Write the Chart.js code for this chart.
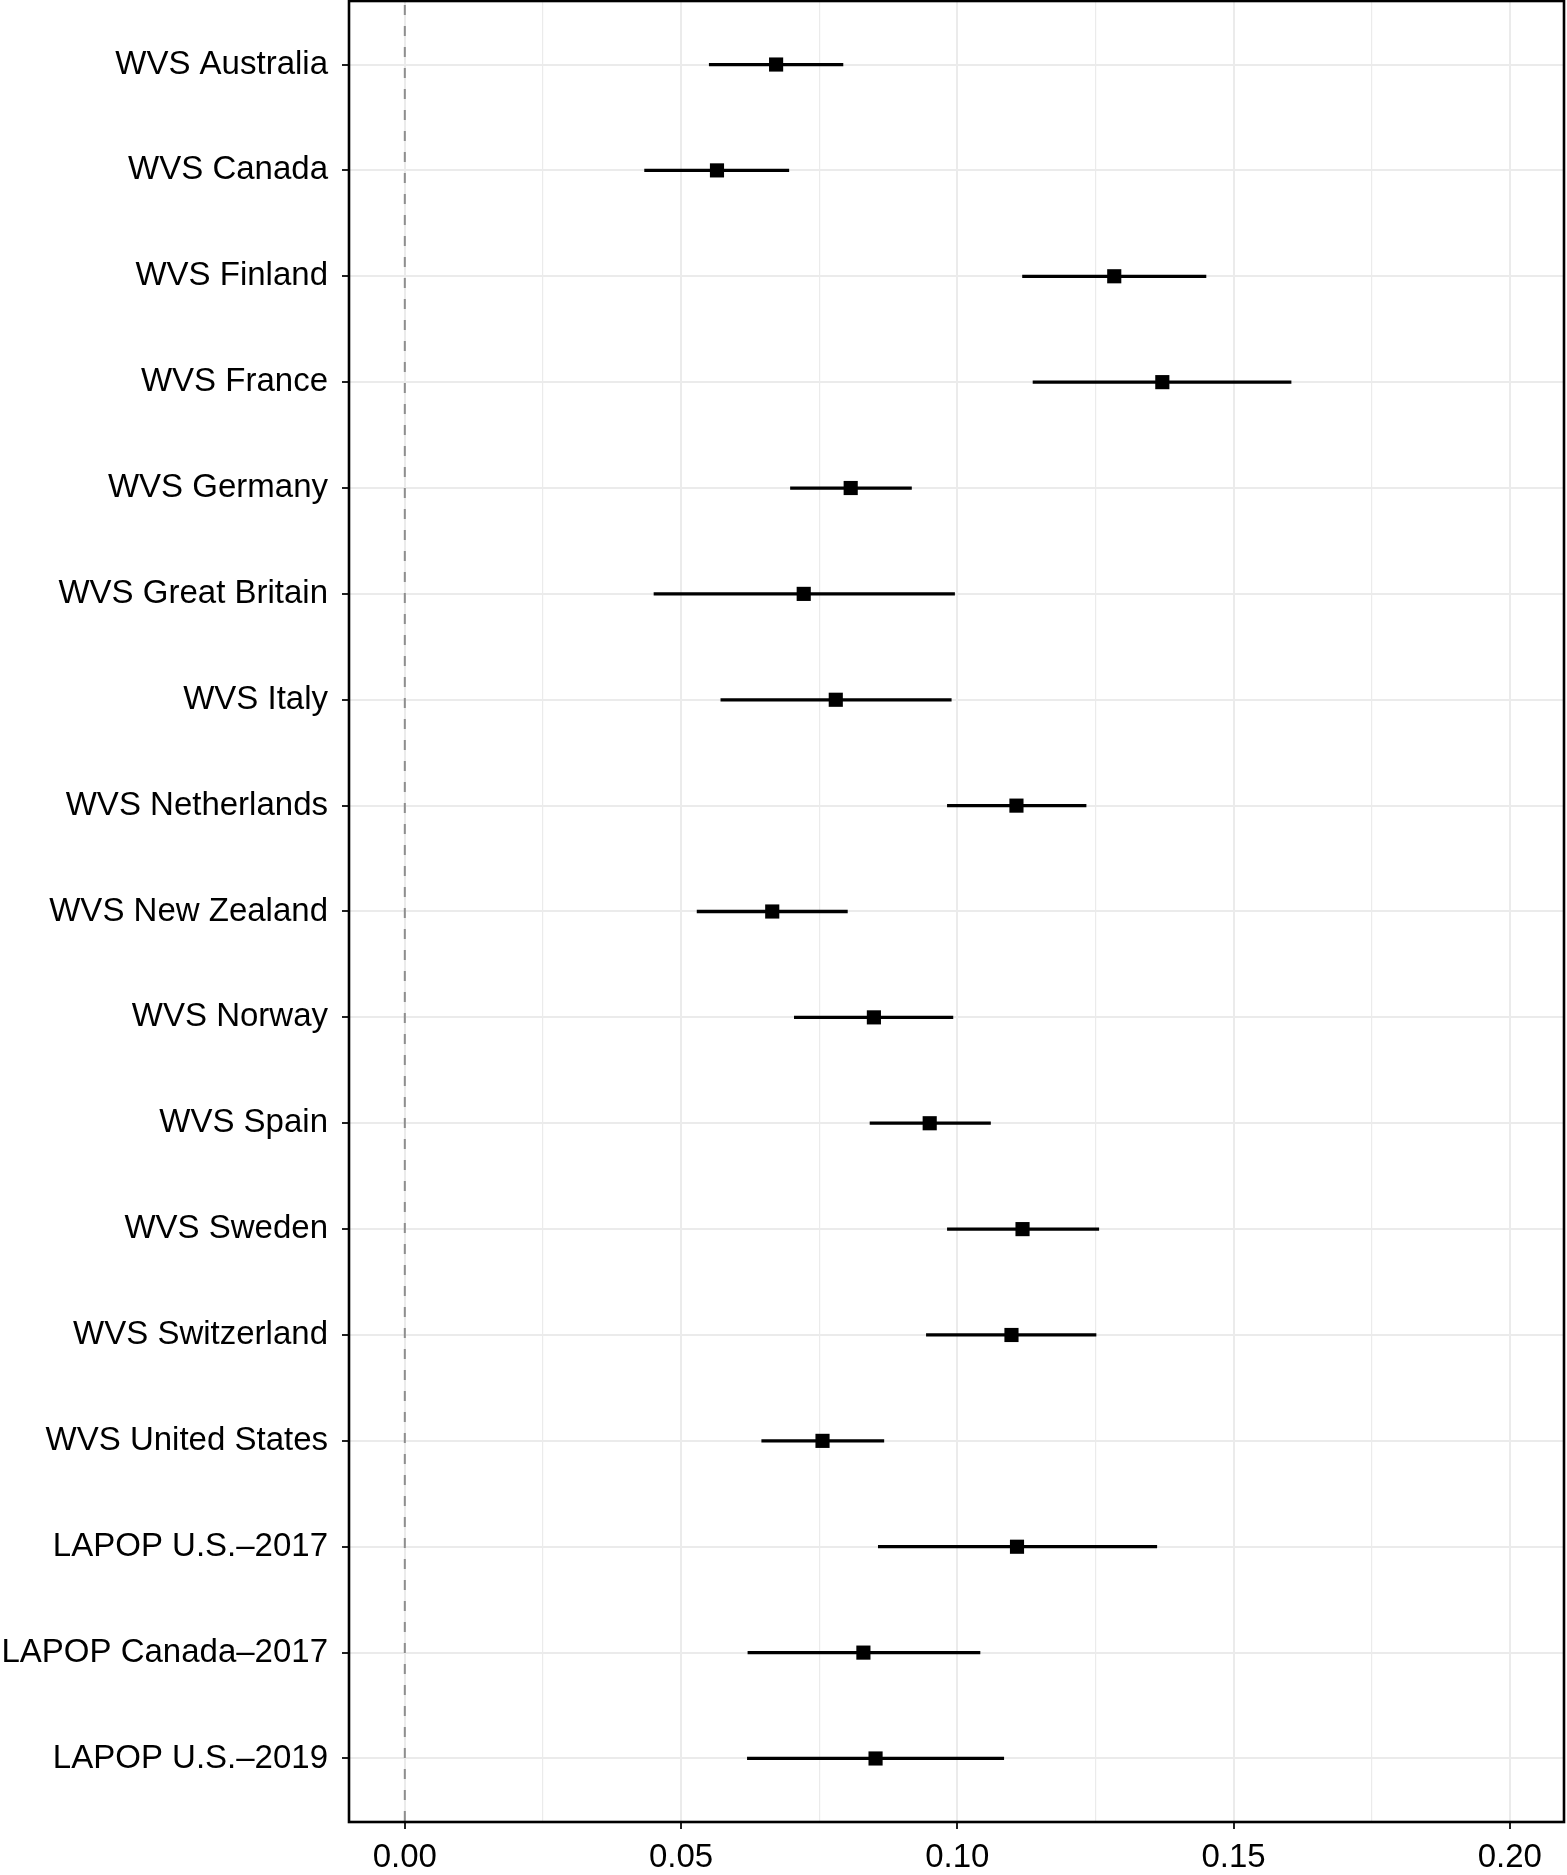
<!DOCTYPE html>
<html>
<head>
<meta charset="utf-8">
<script src="https://cdn.jsdelivr.net/npm/chart.js@4/dist/chart.umd.min.js"></script>
<style>
  html, body { margin: 0; padding: 0; background: #fff; }
  #wrap { width: 1567px; height: 1875px; }
</style>
</head>
<body>
<div id="wrap"><canvas id="forest" width="1567" height="1875"></canvas></div>
<script>
// surveys, top to bottom
var categories = [
    'WVS Australia', 'WVS Canada', 'WVS Finland', 'WVS France', 'WVS Germany',
    'WVS Great Britain', 'WVS Italy', 'WVS Netherlands', 'WVS New Zealand',
    'WVS Norway', 'WVS Spain', 'WVS Sweden', 'WVS Switzerland',
    'WVS United States', 'LAPOP U.S.\u20132017', 'LAPOP Canada\u20132017',
    'LAPOP U.S.\u20132019'
];
var estimates = [0.0672, 0.0565, 0.1284, 0.1371, 0.0807, 0.0722, 0.0780, 0.1107, 0.0665,
    0.0849, 0.0950, 0.1118, 0.1098, 0.0756, 0.1108, 0.0830, 0.0852];
var ciLow = [0.0551, 0.0434, 0.1118, 0.1137, 0.0698, 0.0451, 0.0572, 0.0982, 0.0529,
    0.0705, 0.0842, 0.0982, 0.0944, 0.0646, 0.0857, 0.0621, 0.0620];
var ciHigh = [0.0793, 0.0695, 0.1450, 0.1604, 0.0917, 0.0995, 0.0989, 0.1233, 0.0801,
    0.0992, 0.1060, 0.1256, 0.1251, 0.0867, 0.1361, 0.1041, 0.1084];

var xTickValues = [0, 0.05, 0.10, 0.15, 0.20];
var xTickLabels = ['0.00', '0.05', '0.10', '0.15', '0.20'];
var xMinorValues = [0.025, 0.075, 0.125, 0.175];
var refLineX = 0;

var xMin = -0.0101, xMax = 0.2098;

Chart.defaults.font.family = '"Liberation Sans", Arial, Helvetica, sans-serif';
Chart.defaults.font.size = 33;
Chart.defaults.color = '#000';

function isMajor(v) {
    for (var i = 0; i < xTickValues.length; i++) {
        if (Math.abs(xTickValues[i] - v) < 1e-9) return i;
    }
    return -1;
}

function noPadding(scale) {
    scale.paddingTop = 0;
    scale.paddingBottom = 0;
    scale.paddingLeft = 0;
    scale.paddingRight = 0;
}

// dashed zero line, drawn under the bars
var refLine = {
    id: 'refLine',
    beforeDatasetsDraw: function (chart) {
        var ctx = chart.ctx, area = chart.chartArea;
        var px = chart.scales.x.getPixelForValue(refLineX);
        ctx.save();
        ctx.strokeStyle = '#8e8e8e';
        ctx.lineWidth = 2;
        ctx.setLineDash([10, 11]);
        ctx.beginPath();
        ctx.moveTo(px, area.top + 4);
        ctx.lineTo(px, area.bottom);
        ctx.stroke();
        ctx.restore();
    }
};

// panel border on top of everything
var panelBox = {
    id: 'panelBox',
    afterDatasetsDraw: function (chart) {
        var ctx = chart.ctx, a = chart.chartArea;
        ctx.save();
        ctx.strokeStyle = '#000';
        ctx.lineWidth = 2.6;
        ctx.strokeRect(a.left, a.top, a.right - a.left, a.bottom - a.top);
        ctx.restore();
    }
};

var ctx = document.getElementById('forest').getContext('2d');
new Chart(ctx, {
    type: 'bar',
    data: {
        datasets: [
            {
                type: 'bar',
                data: categories.map(function (c, i) { return { y: i, x: [ciLow[i], ciHigh[i]] }; }),
                backgroundColor: '#000',
                borderWidth: 0,
                barThickness: 2.6,
                order: 2
            },
            {
                type: 'scatter',
                data: categories.map(function (c, i) { return { y: i, x: estimates[i] }; }),
                pointStyle: 'rect',
                pointRadius: 10,
                pointHoverRadius: 10,
                backgroundColor: '#000',
                borderWidth: 0,
                showLine: false,
                order: 1
            }
        ]
    },
    options: {
        indexAxis: 'y',
        responsive: false,
        animation: false,
        events: [],
        layout: { autoPadding: false, padding: { top: 1, right: 3, bottom: 0, left: 0 } },
        plugins: {
            legend: { display: false },
            tooltip: { enabled: false }
        },
        scales: {
            x: {
                type: 'linear',
                position: 'bottom',
                min: xMin,
                max: xMax,
                offset: false,
                afterBuildTicks: function (scale) {
                    scale.ticks = xTickValues.concat(xMinorValues)
                        .sort(function (a, b) { return a - b; })
                        .map(function (v) { return { value: v }; });
                },
                afterFit: function (scale) { scale.height = 53; noPadding(scale); },
                ticks: {
                    autoSkip: false,
                    maxRotation: 0,
                    padding: 9,
                    color: '#000',
                    callback: function (value) {
                        var k = isMajor(value);
                        return k >= 0 ? xTickLabels[k] : '';
                    }
                },
                grid: {
                    offset: false,
                    color: '#ebebeb',
                    lineWidth: function (c) { return isMajor(c.tick.value) >= 0 ? 2 : 1.2; },
                    tickLength: 7,
                    tickWidth: 2,
                    tickColor: function (c) { return isMajor(c.tick.value) >= 0 ? '#222' : 'rgba(0,0,0,0)'; }
                },
                border: { display: false }
            },
            y: {
                type: 'linear',
                reverse: true,
                offset: false,
                min: -0.6,
                max: categories.length - 0.4,
                afterBuildTicks: function (scale) {
                    scale.ticks = categories.map(function (c, i) { return { value: i }; });
                },
                afterFit: function (scale) { scale.width = 349; noPadding(scale); },
                ticks: {
                    autoSkip: false,
                    padding: 14,
                    color: '#000',
                    callback: function (value) { return categories[value]; }
                },
                grid: {
                    offset: false,
                    color: '#ebebeb',
                    lineWidth: 2,
                    tickLength: 7,
                    tickWidth: 2,
                    tickColor: '#222'
                },
                border: { display: false }
            }
        }
    },
    plugins: [refLine, panelBox]
});
</script>
</body>
</html>
